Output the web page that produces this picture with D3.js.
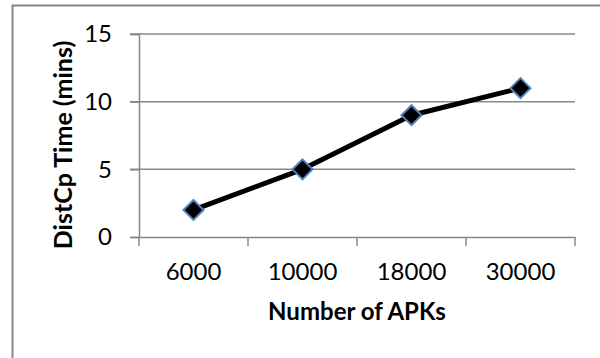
<!DOCTYPE html>
<html><head><meta charset="utf-8">
<script src="https://cdn.jsdelivr.net/npm/d3@7"></script>
<style>body{margin:0;background:#fff}svg{display:block}</style>
</head><body>
<script>
const categories = ["6000", "10000", "18000", "30000"];
const values = [2, 5, 9, 11];
const yTicks = [0, 5, 10, 15];
const xTitle = "Number of APKs";
const yTitle = "DistCp Time (mins)";

(function () {
const W = 600, H = 358;
const svg = d3.select("body").append("svg").attr("width", W).attr("height", H);
const font = "Lato, 'Open Sans', sans-serif";

// outer frame
svg.append("path").attr("d", `M12.5,${H+2} V5.5 H${W+2}`)
  .attr("fill", "none").attr("stroke", "#878787").attr("stroke-width", 2);

const pL = 139, pR = 575, pT = 34, pB = 237;
const x = d3.scaleBand().domain(categories).range([pL, pR]);
const y = d3.scaleLinear().domain([0, 15]).range([pB, pT]);

// gridlines
svg.append("g").selectAll("line").data(yTicks.filter(d => d > 0)).join("line")
  .attr("x1", pL - 9).attr("x2", pR)
  .attr("y1", d => y(d)).attr("y2", d => y(d))
  .attr("stroke", "#888").attr("stroke-width", 1.5);

// y axis
const yAxis = svg.append("g").attr("transform", `translate(${pL},0)`)
  .call(d3.axisLeft(y).tickValues(yTicks).tickSize(9).tickPadding(18));
yAxis.select(".domain").attr("stroke", "#888").attr("stroke-width", 1.5);
yAxis.selectAll(".tick line").attr("stroke", "#888").attr("stroke-width", 1.5);
yAxis.selectAll("text").attr("font-family", font).attr("font-size", 24).attr("fill", "#000");

// x axis
const xAxis = svg.append("g").attr("transform", `translate(0,${pB})`)
  .call(d3.axisBottom(x).tickSize(0).tickPadding(26));
xAxis.select(".domain").attr("stroke", "#888").attr("stroke-width", 1.5);
xAxis.selectAll("text").attr("font-family", font).attr("font-size", 24).attr("fill", "#000");
const bounds = categories.map(c => x(c)).concat([pR]);
xAxis.selectAll(".bt").data(bounds).join("line").attr("class", "bt")
  .attr("x1", d => d).attr("x2", d => d).attr("y1", 0).attr("y2", 9)
  .attr("stroke", "#888").attr("stroke-width", 1.5);

// titles
svg.append("text").attr("x", pL + (pR - pL) / 2).attr("y", 320)
  .attr("text-anchor", "middle").attr("font-family", font).attr("font-weight", "bold")
  .attr("font-size", 24).text(xTitle);
svg.append("text").attr("transform", `translate(72,145) rotate(-90)`)
  .attr("text-anchor", "middle").attr("font-family", font).attr("font-weight", "bold")
  .attr("font-size", 25).text(yTitle);

// line
const pts = categories.map((c, i) => [x(c) + x.bandwidth() / 2, y(values[i])]);
svg.append("path").attr("d", d3.line()(pts)).attr("fill", "none")
  .attr("stroke", "#000").attr("stroke-width", 5).attr("stroke-linejoin", "round");

// markers
svg.append("g").selectAll("path").data(pts).join("path")
  .attr("transform", d => `translate(${d[0]},${d[1]})`)
  .attr("d", "M0,-10 L10,0 L0,10 L-10,0 Z")
  .attr("fill", "#000").attr("stroke", "#4F81BD").attr("stroke-width", 2);
})();
</script>
</body></html>
